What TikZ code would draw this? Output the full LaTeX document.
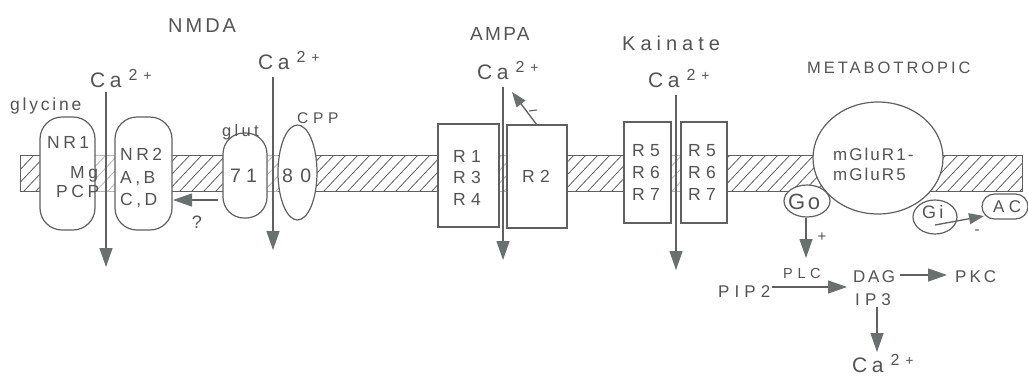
\documentclass[tikz,border=0pt]{standalone}
\usepackage{fontspec}
\newfontfamily\lbl{Liberation Sans}[LetterSpace=20]
\newfontfamily\lbln{Liberation Sans}
\usetikzlibrary{arrows.meta,shapes.geometric}
\definecolor{ink}{HTML}{545454}
\definecolor{linec}{HTML}{606060}
\definecolor{tipc}{HTML}{687170}
\newcommand{\fs}[1]{\fontsize{#1}{#1}\selectfont}
\newcommand{\ca}{\lbln\fs{21}C\kern4.5pt a\kern7pt\raisebox{7pt}{\fs{16}2}\kern6pt\raisebox{7pt}{\fs{14}+}}
\tikzset{
  every node/.style={text=ink, font=\lbl},
  shp/.style={draw=linec, line width=1.2pt, fill=white, inner sep=0pt},
  conn/.style={draw=linec, line width=1.3pt, -{Triangle[length=19pt,width=13pt,color=tipc]}},
  sconn/.style={draw=linec, line width=1.3pt, -{Triangle[length=15pt,width=11pt,color=tipc]}},
  t/.style={anchor=base west, inner sep=0pt},
  tc/.style={anchor=center, inner sep=0pt},
  inner/.style={t, font=\lbl\fs{17.5}},
  rlab/.style={t, font=\lbl\fs{17.5}\addfontfeature{LetterSpace=30}},
}
\begin{document}
\begin{tikzpicture}[x=1pt,y=-1pt]
\useasboundingbox (0,0) rectangle (1028,376);
\fill[white] (0,0) rectangle (1028,376);
% membrane
\begin{scope}
  \clip (20,155) rectangle (1022,191);
  \foreach \x in {0,12,...,1030} \draw[linec, line width=0.8pt] (\x,191) -- (\x+34,155);
\end{scope}
\draw[linec, line width=1pt] (20,155) rectangle (1022,191);
% lighter channel gaps
\foreach \a/\b in {95/115,267/278,499/507,671/681}
  \fill[white, opacity=0.55] (\a,153) rectangle (\b,193);

% NMDA receptor
\node[shp, rounded corners=22pt, minimum width=55pt, minimum height=113pt] (nr1) at (67.5,173.5) {};
\node[shp, rounded corners=22pt, minimum width=57pt, minimum height=113pt] (nr2) at (143.5,173.5) {};
\node[shp, rounded corners=21pt, minimum width=44pt, minimum height=85pt] (g71) at (245,175.5) {};
\node[shp, ellipse, minimum width=39pt, minimum height=95pt] (e80) at (297.5,172.5) {};
% AMPA
\node[shp, minimum width=61pt, minimum height=103pt] (r1) at (468.5,175.5) {};
\node[shp, minimum width=60pt, minimum height=103pt] (r2) at (537,176.5) {};
% Kainate
\node[shp, minimum width=47pt, minimum height=101pt] (k1) at (647.5,172.5) {};
\node[shp, minimum width=46pt, minimum height=101pt] (k2) at (704,172.5) {};
% metabotropic
\node[shp, ellipse, minimum width=130pt, minimum height=112pt] (mglu) at (878,158) {};
\node[shp, ellipse, minimum width=46pt, minimum height=32pt] (go) at (807,201) {};
\node[shp, ellipse, minimum width=44pt, minimum height=34pt] (gi) at (935,217) {};
\node[shp, rounded corners=12.5pt, minimum width=46pt, minimum height=25pt] (ac) at (1005,206.5) {};

% titles
\node[t, font=\lbl\fs{20}\addfontfeature{LetterSpace=15}] (tnmda) at (168,32) {NMDA};
\node[t, font=\lbl\fs{19}\addfontfeature{LetterSpace=12}] (tampa) at (470,40) {AMPA};
\node[t, font=\lbl\fs{20}\addfontfeature{LetterSpace=25}] (tkain) at (622,50) {Kainate};
\node[t, font=\lbl\fs{16.5}\addfontfeature{LetterSpace=18}] (tmeta) at (807,73) {METABOTROPIC};

% Ca labels
\node[t] (ca1) at (90,87) {\ca};
\node[t] (ca2) at (258,69) {\ca};
\node[t] (ca3) at (477,79) {\ca};
\node[t] (ca4) at (648,87) {\ca};
\node[t] (ca5) at (852,372) {\ca};

% NMDA texts
\node[t, font=\lbl\fs{17.5}\addfontfeature{LetterSpace=16}] (gly) at (10,110) {glycine};
\node[inner] (lnr1) at (47,148) {NR1};
\node[inner] (lmg) at (70,178) {Mg};
\node[inner] (lpcp) at (56,197) {PCP};
\node[inner] (lnr2) at (120,160) {NR2};
\node[inner] (lab) at (120,183) {A,B};
\node[inner] (lcd) at (120,205) {C,D};
\node[t, font=\lbl\fs{16.5}] (lglut) at (222,136) {glut};
\node[t, font=\lbl\fs{19.5}\addfontfeature{LetterSpace=26}] (l71) at (230,182) {71};
\node[t, font=\lbl\fs{19.5}\addfontfeature{LetterSpace=38}] (l80) at (282,182) {80};
\node[t, font=\lbl\fs{15.5}\addfontfeature{LetterSpace=30}] (lcpp) at (297,123) {CPP};
\node[tc, font=\lbl\fs{18}] (lq) at (197,222) {?};

% AMPA texts
\node[rlab] (lr1) at (453,162) {R1};
\node[rlab] (lr3) at (453,183) {R3};
\node[rlab] (lr4) at (453,205) {R4};
\node[rlab] (lr2) at (522,182) {R2};

% Kainate texts
\node[rlab] (lk5a) at (632,156) {R5};
\node[rlab] (lk6a) at (632,178) {R6};
\node[rlab] (lk7a) at (632,200) {R7};
\node[rlab] (lk5b) at (688,156) {R5};
\node[rlab] (lk6b) at (688,178) {R6};
\node[rlab] (lk7b) at (688,200) {R7};

% metabotropic texts
\node[t, font=\lbl\fs{17}\addfontfeature{LetterSpace=12}] (lm1) at (833,160) {mGluR1-};
\node[t, font=\lbl\fs{17}\addfontfeature{LetterSpace=12}] (lm5) at (833,180) {mGluR5};
\node[t, font=\lbl\fs{22}\addfontfeature{LetterSpace=12}] (lgo) at (788,209) {Go};
\node[t, font=\lbl\fs{18}\addfontfeature{LetterSpace=18}] (lgi) at (922,218) {Gi};
\node[t, font=\lbl\fs{17}\addfontfeature{LetterSpace=25}] (lac) at (993,212) {AC};
\node[tc, font=\lbl\fs{15}] (lplus) at (822,237) {+};
\node[tc, font=\lbl\fs{15}] (lminus) at (977,232) {-};
\node[t, font=\lbl\fs{14.5}\addfontfeature{LetterSpace=32}] (lplc) at (783,278) {PLC};
\node[t, font=\lbl\fs{17}\addfontfeature{LetterSpace=30}] (lpip) at (718,297) {PIP2};
\node[t, font=\lbl\fs{17}\addfontfeature{LetterSpace=15}] (ldag) at (853,282) {DAG};
\node[t, font=\lbl\fs{17}\addfontfeature{LetterSpace=30}] (lip3) at (855,305) {IP3};
\node[t, font=\lbl\fs{17}\addfontfeature{LetterSpace=18}] (lpkc) at (955,282) {PKC};

% connector end points
\coordinate (c1a) at (106,92);  \coordinate (c1b) at (106,267);
\coordinate (c2a) at (273,77);  \coordinate (c2b) at (273,250);
\coordinate (c3a) at (503,87);  \coordinate (c3b) at (503,260);
\coordinate (c4a) at (676,95);  \coordinate (c4b) at (676,270);
\coordinate (qa) at (218,200);  \coordinate (qb) at (173,200);
\coordinate (ma) at (537,125);  \coordinate (mb) at (512,92);
\coordinate (gob) at (806,258);
\coordinate (pa) at (772,287);  \coordinate (pb) at (847,287);
\coordinate (da) at (900,275);  \coordinate (db) at (947,275);
\coordinate (ia) at (877,307);  \coordinate (ib) at (877,352);
\coordinate (gia) at (935,225); \coordinate (gib) at (984,216);
\coordinate (tka) at (529,111); \coordinate (tkb) at (537,110);

\draw[conn] (c1a) -- (c1b);
\draw[conn] (c2a) -- (c2b);
\draw[conn] (c3a) -- (c3b);
\draw[conn] (c4a) -- (c4b);
\draw[conn] (qa) -- (qb);
\draw[sconn] (ma) -- (mb);
\draw[linec, line width=1.1pt] (tka) -- (tkb);
\draw[conn] (go.south -| gob) -- (gob);
\draw[conn] (pa) -- (pb);
\draw[conn] (da) -- (db);
\draw[conn] (ia) -- (ib);
\draw[sconn] (gia) -- (gib);
\end{tikzpicture}
\end{document}
